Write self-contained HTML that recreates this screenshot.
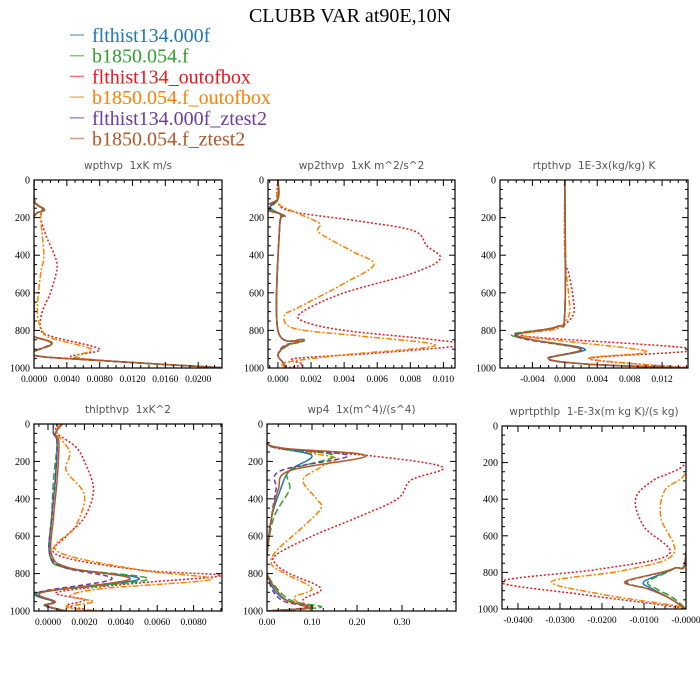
<!DOCTYPE html>
<html><head><meta charset="utf-8">
<style>
body{margin:0;background:#fff;width:700px;height:700px;overflow:hidden}
svg{display:block}
svg text{white-space:pre}
</style></head>
<body>
<svg id="fig" width="700" height="700" xmlns="http://www.w3.org/2000/svg">
<text x="350" y="22" text-anchor="middle" font-family="Liberation Serif, serif" font-size="20" fill="#000">CLUBB VAR at90E,10N</text>
<g id="legend"></g>
</svg>
<script>
const seriesNames=["flthist134.000f","b1850.054.f","flthist134_outofbox","b1850.054.f_outofbox","flthist134.000f_ztest2","b1850.054.f_ztest2"];
const colors=["#1f78b4","#33a02c","#e31a1c","#ff7f00","#6a3d9a","#b15928"];
const dashes=["","7,3","2,2","6,2,2,2","5,3",""];
const yTicks=[0,200,400,600,800,1000];

// Panel 1: wpthvp
const p1CtrlLev=[0,100,130,160,200,400,700,800,830,870,930,960,1000];
const p1Blue=[0,0,0.0003,0.0012,0,0,0,0,-0.0002,0.0022,-0.0002,0.008,0.0235];
const p1Green=[0,0,0.0003,0.0011,0,0,0,0,-0.0001,0.0023,-0.0001,0.008,0.0235];
const p1Purple=[0,0,0.0003,0.0012,0,0,0,0,-0.0002,0.0021,-0.0003,0.008,0.0235];
const p1Brown=[0,0,0.0003,0.0013,0,0,0,0,-0.0002,0.0022,-0.0002,0.008,0.0235];
const p1RedLev=[0,100,160,200,300,400,470,600,700,790,830,900,940,965,1000];
const p1Red=[0,0,0.001,0.0008,0.0015,0.0025,0.0028,0.002,0.001,0.0008,0.002,0.008,0.0045,0.010,0.0235];
const p1OrgLev=[0,100,160,200,400,500,700,800,840,900,950,1000];
const p1Org=[0,0,0.001,0.0008,0.0012,0.0008,0.0004,0.001,0.002,0.007,0.006,0.0235];

// Panel 2: wp2thvp
const p2CtrlLev=[0,100,150,190,250,800,850,880,930,970,1000];
const p2Blue=[0,0,-0.0005,0.0003,0.0001,0,0.0015,0.0005,0,0.0003,0.0005];
const p2Green=[0,0,-0.0004,0.0002,0.0001,0,0.0016,0.0006,0,0.0003,0.0005];
const p2Purple=[0,0,-0.0006,0.0003,0.0001,0,0.0014,0.0004,0,0.0003,0.0005];
const p2Brown=[0,0,-0.001,0.0004,0.0001,0,0.0015,0.0005,0,0.0003,0.0005];
const p2RedLev=[0,120,170,220,270,350,420,500,600,700,750,800,850,880,920,950,980,1000];
const p2Red=[0,0,0.001,0.005,0.0082,0.009,0.0098,0.008,0.004,0.0015,0.0015,0.004,0.0095,0.011,0.006,0.001,0.0015,0.0005];
const p2OrgLev=[0,120,170,230,280,380,450,550,680,720,790,830,880,930,970,1000];
const p2Org=[0,0,0.001,0.0025,0.0025,0.0045,0.0058,0.004,0.0012,0.0004,0.001,0.005,0.0095,0.004,0.0005,0.0005];

// Panel 3: rtpthvp
const p3CtrlLev=[0,700,780,820,850,900,950,980,1000];
const p3Blue=[0,0,-0.001,-0.006,-0.004,0.0025,-0.002,0.003,0.015];
const p3Green=[0,0,-0.001,-0.0065,-0.004,0.002,-0.002,0.003,0.015];
const p3Purple=[0,0,-0.001,-0.006,-0.0045,0.002,-0.0022,0.003,0.015];
const p3Brown=[0,0,-0.001,-0.0058,-0.004,0.002,-0.002,0.003,0.015];
const p3RedLev=[0,400,500,620,720,790,830,900,950,1000];
const p3Red=[0,0,0.0005,0.001,0.001,-0.001,-0.005,0.016,0.003,0.016];
const p3OrgLev=[0,400,620,720,790,830,910,950,1000];
const p3Org=[0,0,0.0005,0.0005,-0.001,-0.005,0.010,0.003,0.015];

// Panel 4: thlpthvp
const p4CtrlLev=[0,50,100,300,500,700,770,830,900,950,970,990,1000];
const p4Blue=[0.0003,0.0003,0.0005,0.0004,0.0002,0.0001,0.001,0.005,-0.0005,0.0003,-0.0002,0.0005,0.001];
const p4Green=[0.0003,0.0003,0.0005,0.0003,0.0002,0.0001,0.001,0.0055,-0.0004,0.0003,-0.0002,0.0005,0.001];
const p4Purple=[0.0003,0.0003,0.0005,0.0004,0.0002,0.0001,0.001,0.0035,-0.0005,0.0003,-0.0002,0.0005,0.001];
const p4Brown=[0.0008,0.0004,0.0006,0.0005,0.0003,0.0002,0.0012,0.0045,-0.0003,0.0004,-0.0001,0.0006,0.001];
const p4RedLev=[0,50,120,200,350,500,600,700,780,810,850,900,940,970,990,1000];
const p4Red=[0.0005,0.0005,0.0015,0.002,0.0025,0.002,0.001,0.0005,0.005,0.0095,0.005,0.0005,0.002,0.001,0.002,0.002];
const p4OrgLev=[0,50,150,250,380,550,680,780,830,880,920,950,980,1000];
const p4Org=[0.0007,0.0005,0.0012,0.001,0.002,0.0015,0.0005,0.005,0.009,0.003,0.0012,0.0025,0.001,0.003];

// Panel 5: wp4
const p5CtrlLev=[0,100,130,170,250,350,500,700,800,900,950,980,1000];
const p5Blue=[0,0,0.03,0.10,0.05,0.03,0.01,0,0,0.02,0.05,0.10,0];
const p5Green=[0,0,0.03,0.15,0.05,0.05,0.015,0,0,0.03,0.06,0.12,0];
const p5Purple=[0,0,0.03,0.18,0.03,0.02,0.01,0,0,0.015,0.04,0.09,0];
const p5Brown=[0,0,0.04,0.22,0.05,0.025,0.01,0,0,0.025,0.05,0.10,0];
const p5RedLev=[0,100,140,170,230,300,400,500,600,700,750,800,880,940,1000];
const p5Red=[0,0,0.05,0.23,0.39,0.32,0.29,0.2,0.1,0.02,0.02,0.05,0.12,0.08,0.10];
const p5OrgLev=[0,100,140,180,230,300,400,450,550,680,750,800,880,930,1000];
const p5Org=[0,0,0.05,0.15,0.12,0.08,0.11,0.12,0.08,0.02,0.01,0.04,0.10,0.06,0.10];

// Panel 6: wprtpthlp
const p6CtrlLev=[0,700,780,850,890,940,1000];
const p6Blue=[0,0,-0.003,-0.010,-0.008,-0.004,0];
const p6Green=[0,0,-0.003,-0.009,-0.007,-0.003,0];
const p6Purple=[0,0,-0.003,-0.014,-0.009,-0.004,0];
const p6Brown=[0,0,-0.003,-0.0145,-0.009,-0.004,0];
const p6RedLev=[0,200,300,400,550,700,780,850,920,980,1000];
const p6Red=[0,0,-0.008,-0.012,-0.010,-0.004,-0.02,-0.044,-0.025,-0.005,0];
const p6OrgLev=[0,250,350,500,700,790,850,920,980,1000];
const p6Org=[0,0,-0.005,-0.006,-0.003,-0.015,-0.032,-0.02,-0.003,0];

const panels=[
 {name:"wpthvp",title:"wpthvp  1xK m/s",x0:34,x1:222,y0:180,y1:368,xmin:-0.0000,xmax:0.0229,ticks:[0,0.004,0.008,0.012,0.016,0.02],fmt:4,minor:0.001,
  ctrl:p1CtrlLev,s:[p1Blue,p1Green,null,null,p1Purple,p1Brown],red:[p1RedLev,p1Red],org:[p1OrgLev,p1Org]},
 {name:"wp2thvp",title:"wp2thvp  1xK m^2/s^2",x0:268,x1:455,y0:180,y1:368,xmin:-0.0006,xmax:0.0107,ticks:[0,0.002,0.004,0.006,0.008,0.010],fmt:3,minor:0.0005,
  ctrl:p2CtrlLev,s:[p2Blue,p2Green,null,null,p2Purple,p2Brown],red:[p2RedLev,p2Red],org:[p2OrgLev,p2Org]},
 {name:"rtpthvp",title:"rtpthvp  1E-3x(kg/kg) K",x0:500,x1:688,y0:180,y1:368,xmin:-0.0080,xmax:0.0152,ticks:[-0.004,0,0.004,0.008,0.012],fmt:3,minor:0.001,
  ctrl:p3CtrlLev,s:[p3Blue,p3Green,null,null,p3Purple,p3Brown],red:[p3RedLev,p3Red],org:[p3OrgLev,p3Org]},
 {name:"thlpthvp",title:"thlpthvp  1xK^2",x0:34,x1:222,y0:424,y1:611,xmin:-0.00077,xmax:0.00956,ticks:[0,0.002,0.004,0.006,0.008],fmt:4,minor:0.0005,
  ctrl:p4CtrlLev,s:[p4Blue,p4Green,null,null,p4Purple,p4Brown],red:[p4RedLev,p4Red],org:[p4OrgLev,p4Org]},
 {name:"wp4",title:"wp4  1x(m^4)/(s^4)",x0:267,x1:456,y0:424,y1:611,xmin:0,xmax:0.42,ticks:[0,0.1,0.2,0.3],fmt:2,minor:0.025,
  ctrl:p5CtrlLev,s:[p5Blue,p5Green,null,null,p5Purple,p5Brown],red:[p5RedLev,p5Red],org:[p5OrgLev,p5Org]},
 {name:"wprtpthlp",title:"wprtpthlp  1-E-3x(m kg K)/(s kg)",x0:502,x1:686,y0:426,y1:609,xmin:-0.0438,xmax:0,ticks:[-0.04,-0.03,-0.02,-0.01,0],fmt:4,minor:0.0025,
  ctrl:p6CtrlLev,s:[p6Blue,p6Green,null,null,p6Purple,p6Brown],red:[p6RedLev,p6Red],org:[p6OrgLev,p6Org]}
];

const NS="http://www.w3.org/2000/svg";
const fig=document.getElementById("fig");
function mk(tag,attrs,parent){const e=document.createElementNS(NS,tag);for(const k in attrs)e.setAttribute(k,attrs[k]);parent.appendChild(e);return e;}

// legend
const leg=document.getElementById("legend");
seriesNames.forEach((n,i)=>{
  const y=35+i*20.7;
  const g=mk("g",{},leg);
  
  
  mk("line",{x1:70,x2:84,y1:y,y2:y,stroke:colors[i],"stroke-width":1.5,opacity:0.6},g);
  const t=mk("text",{x:92,y:y+7,"font-family":"Liberation Serif, serif","font-size":20,fill:colors[i]},g);
  t.textContent=n;
});

function smoothPath(pts){
  let d="M"+pts[0][0].toFixed(2)+","+pts[0][1].toFixed(2);
  for(let i=0;i<pts.length-1;i++){
    const p0=pts[Math.max(0,i-1)],p1=pts[i],p2=pts[i+1],p3=pts[Math.min(pts.length-1,i+2)];
    const c1=[p1[0]+(p2[0]-p0[0])/6,p1[1]+(p2[1]-p0[1])/6];
    const c2=[p2[0]-(p3[0]-p1[0])/6,p2[1]-(p3[1]-p1[1])/6];
    d+=" C"+c1[0].toFixed(2)+","+c1[1].toFixed(2)+" "+c2[0].toFixed(2)+","+c2[1].toFixed(2)+" "+p2[0].toFixed(2)+","+p2[1].toFixed(2);
  }
  return d;
}

panels.forEach((P,pi)=>{
  const g=mk("g",{},fig);
  
  
  const xs=v=>P.x0+(v-P.xmin)/(P.xmax-P.xmin)*(P.x1-P.x0);
  const ys=p=>P.y0+p/1000*(P.y1-P.y0);
  const t=mk("text",{x:(P.x0+P.x1)/2,y:P.y0-11,"text-anchor":"middle","font-family":"DejaVu Sans, Liberation Sans, sans-serif","font-size":10.5,fill:"#555"},g);
  
  
  t.textContent=P.title;
  const clipId="clip"+pi;
  const cp=mk("clipPath",{id:clipId},g);
  mk("rect",{x:P.x0,y:P.y0,width:P.x1-P.x0,height:P.y1-P.y0},cp);
  const lines=mk("g",{"clip-path":"url(#"+clipId+")"},g);
  const order=[2,3,0,1,4,5];
  order.forEach(i=>{
    let lev,val;
    if(i===2){lev=P.red[0];val=P.red[1];}
    else if(i===3){lev=P.org[0];val=P.org[1];}
    else {lev=P.ctrl;val=P.s[i];}
    const pts=lev.map((p,k)=>[xs(val[k]),ys(p)]);
    const path=mk("path",{d:smoothPath(pts),fill:"none",stroke:colors[i],"stroke-width":1.5},lines);
    if(dashes[i])path.setAttribute("stroke-dasharray",dashes[i]);
    
    
  });
  const fr=mk("rect",{x:P.x0,y:P.y0,width:P.x1-P.x0,height:P.y1-P.y0,fill:"none",stroke:"#000","stroke-width":1.2},g);
  
  
  for(let p=0;p<=1000;p+=50){
    const len=(p%200===0)?6:3;
    const y=ys(p);
    mk("line",{x1:P.x0,x2:P.x0+len,y1:y,y2:y,stroke:"#000","stroke-width":1},g);
    mk("line",{x1:P.x1,x2:P.x1-len,y1:y,y2:y,stroke:"#000","stroke-width":1},g);
  }
  yTicks.forEach(p=>{
    const tl=mk("text",{x:P.x0-4,y:ys(p)+3.5,"text-anchor":"end","font-family":"Liberation Serif, serif","font-size":10,fill:"#000"},g);
    
    
    tl.textContent=p;
  });
  const start=Math.ceil(P.xmin/P.minor-1e-6);
  for(let k=start;k*P.minor<=P.xmax+1e-9;k++){
    const v=k*P.minor;
    const major=P.ticks.some(tv=>Math.abs(tv-v)<1e-9);
    const len=major?6:3;
    const x=xs(v);
    mk("line",{x1:x,x2:x,y1:P.y1,y2:P.y1-len,stroke:"#000","stroke-width":1},g);
    mk("line",{x1:x,x2:x,y1:P.y0,y2:P.y0+len,stroke:"#000","stroke-width":1},g);
  }
  P.ticks.forEach(v=>{
    let s=v.toFixed(P.fmt);
    if(pi===5&&v===0)s="-0.0000";
    const tl=mk("text",{x:xs(v),y:P.y1+14,"text-anchor":"middle","font-family":"Liberation Serif, serif","font-size":9.5,fill:"#000"},g);
    
    
    tl.textContent=s;
  });
});
</script>
</body></html>
